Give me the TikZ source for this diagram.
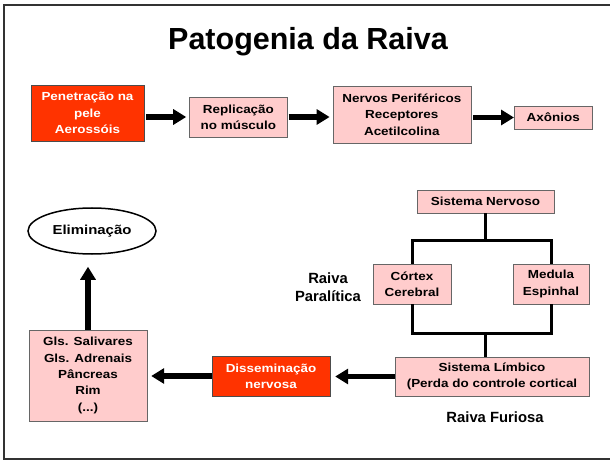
\documentclass[tikz,border=0pt]{standalone}
\usepackage{fontspec}
\setmainfont{Liberation Sans}
\newfontfamily\boxfont{Liberation Sans}[FakeStretch=1.15]
\usepackage{xcolor}
\usetikzlibrary{arrows.meta, positioning, shapes.geometric}

\definecolor{pinkfill}{HTML}{FFCCCC}
\definecolor{redfill}{HTML}{FF3300}

\begin{document}
\begin{tikzpicture}[
    x=1pt, y=1pt,
    box/.style={draw=black!60, fill=#1, font=\boxfont\bfseries\fontsize{11.7}{16.3}\selectfont, align=center, inner sep=2pt},
    box/.default=pinkfill,
    hot/.style={box=redfill, text=white, draw=black!70},
    oval/.style={ellipse, draw, line width=1.5pt, inner sep=0pt, minimum width=128pt, minimum height=46pt, font=\boxfont\bfseries\fontsize{13}{16}\selectfont},
    tag/.style={font=\bfseries\fontsize{14.8}{18}\selectfont, align=center},
    arr/.style={-{Triangle[length=13pt, width=15pt]}, line width=5.5pt},
    tree/.style={line width=3pt},
]
\useasboundingbox (0,0) rectangle (610,461);
\draw[line width=2pt, black!80] (4,2) rectangle (625,455.5);

% Title
\node[font=\bfseries\fontsize{30.5}{36}\selectfont, anchor=base] (title) at (308,411) {Patogenia da Raiva};

% Row 1: entry of the virus
\node[hot, minimum width=113pt, minimum height=56pt] (pen) at (87.5,348) {Penetração na\\pele\\Aerossóis};
\node[box, minimum width=98pt, minimum height=40pt, right=45pt of pen, yshift=-4pt] (rep) {Replicação\\no músculo};
\node[box, minimum width=138pt, minimum height=57pt, right=45pt of rep, yshift=2.5pt] (ner) {Nervos Periféricos\\Receptores\\Acetilcolina};
\node[box, minimum width=78pt, minimum height=23pt, right=43pt of ner, yshift=-3pt] (axo) {Axônios};

\draw[arr, shorten <=2pt, shorten >=3pt] (pen.east |- rep.west) -- (rep.west);
\draw[arr, shorten <=1pt, shorten >=3pt] (rep.east) -- (ner.west |- rep.east);
\draw[arr, shorten <=2pt] (ner.east |- axo.west) -- (axo.west);

% Row 2: central nervous system
\node[box, minimum width=137pt, minimum height=23pt] (sn) at (485.5,259.5) {Sistema Nervoso};
\node[box, minimum width=78pt, minimum height=40pt] (cor) at (412,177) {Córtex\\Cerebral};
\node[box, minimum width=76pt, minimum height=40pt] (med) at (551,177) {Medula\\Espinhal};
\node[tag] (paral) at (328,174) {Raiva\\Paralítica};

\draw[tree] (sn.south) -- ++(0,-27) coordinate (jt);
\draw[tree] (cor.north) |- (jt) -| (med.north);
\coordinate (jb) at (sn.south |- 0,128);
\draw[tree] (cor.south) |- (jb) -| (med.south);

% Row 3: spread and elimination
\node[box, minimum width=194pt, minimum height=39pt] (lim) at (492,84.5) {Sistema Límbico\\(Perda do controle cortical};
\node[tag] (fur) at (495,44) {Raiva Furiosa};
\node[hot, minimum width=118pt, minimum height=40pt] (dis) at (271,85) {Disseminação\\nervosa};
\node[box, minimum width=118pt, minimum height=91pt] (gls) at (88,85.5) {Gls. Salivares\\Gls. Adrenais\\Pâncreas\\Rim\\(...)};
\node[oval] (eli) at (92,230) {Eliminação};

\draw[tree] (jb) -- (jb |- lim.north);
\draw[arr, shorten >=5pt] (lim.west) -- (dis.east |- lim.west);
\draw[arr, shorten >=4pt] (dis.west) -- (gls.east |- dis.west);
\draw[arr, shorten >=12pt] (gls.north) -- (gls.north |- eli.south);

\end{tikzpicture}
\end{document}
